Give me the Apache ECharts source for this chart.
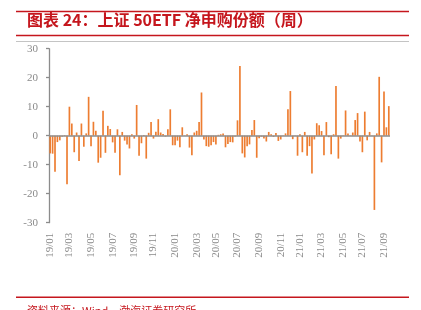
<!DOCTYPE html>
<html>
<head>
<meta charset="utf-8">
<script src="https://cdn.jsdelivr.net/npm/echarts@6/dist/echarts.min.js"></script>
<style>
html,body{margin:0;padding:0;background:#fff;}
#c{width:421px;height:310px;}
</style>
</head>
<body>
<div id="c"></div>
<script>
// Weekly net subscription shares of SSE 50ETF, first week of 2019-01 onward
var startDate = [2019, 0, 4];
var weekValues = [
  -6.1, -6.2, -12.4, -2.2, -1.6, -0.3, 0.2, -16.7, 10.0, 4.2,
  -5.7, 1.1, -8.7, 4.2, -3.8, 0.8, 13.4, -3.6, 4.8, 1.7,
  -9.3, -7.6, 8.6, -5.9, 3.4, 2.3, -2.3, -5.9, 2.2, -13.6,
  1.3, -1.7, -3.0, -4.4, 0.5, -1.0, 10.6, -6.9, -2.6, 0.2,
  -7.9, 1.0, 4.7, -1.0, 1.4, 5.7, 1.1, 0.6, -0.3, 2.2,
  9.1, -3.3, -3.3, -1.7, -4.0, 2.9, 0.1, 0.5, -4.1, -6.7,
  1.1, 1.7, 4.7, 14.9, -1.3, -3.6, -3.8, -3.3, -2.2, -3.0,
  0.3, 0.5, 0.8, -4.0, -2.9, -2.2, -2.3, -0.3, 5.3, 24.0,
  -6.1, -7.5, -3.6, -3.0, 2.0, 5.4, -7.6, -0.9, -0.3, -1.0,
  -2.0, 1.3, 0.5, -0.4, 0.9, -1.8, -1.3, 0.1, 0.8, 9.1,
  15.4, -1.2, 0.1, -6.9, 0.5, -5.7, 1.3, -6.9, -3.6, -13.0,
  -1.3, 4.3, 3.6, 1.6, -6.7, 4.7, -0.5, -6.4, 0.5, 17.1,
  -7.9, -1.0, 0.1, 8.7, 0.8, 0.1, 1.1, 5.4, 7.8, -2.0,
  -5.7, 8.3, -1.6, 1.3, 0.1, -25.6, 0.8, 20.3, -9.2, 15.2,
  2.9, 10.2
];
var yTicks = [-30, -20, -10, 0, 10, 20, 30];
var titleText = '图表 24：上证 50ETF 净申购份额（周）';
var sourceText = '资料来源：Wind，渤海证券研究所';

function pad(n){ return (n < 10 ? '0' : '') + n; }
var categories = [];
var t0 = Date.UTC(startDate[0], startDate[1], startDate[2]);
for (var i = 0; i < weekValues.length; i++) {
  var d = new Date(t0 + i * 7 * 86400000);
  categories.push(String(d.getUTCFullYear()).slice(2) + '/' + pad(d.getUTCMonth() + 1) + '/' + pad(d.getUTCDate()));
}
function showLabel(idx, val) {
  var m = parseInt(val.split('/')[1], 10);
  if (m % 2 === 0) return false;
  if (idx === 0) return true;
  var prevM = parseInt(categories[idx - 1].split('/')[1], 10);
  return prevM !== m;
}

var serif = 'Liberation Serif';
var labelRich = {s: {fontFamily: serif, fontSize: 11, color: '#8a8a8a'}};
var chart = echarts.init(document.getElementById('c'), null, {renderer: 'canvas'});
var red = '#C5161D';
chart.setOption({
  animation: false,
  backgroundColor: '#ffffff',
  textStyle: {fontFamily: serif},
  grid: {left: 49, right: 31, top: 48.7, bottom: 87.3, containLabel: false},
  xAxis: {
    type: 'category',
    data: categories,
    boundaryGap: true,
    axisLine: {show: false, onZero: false},
    axisTick: {show: false},
    splitLine: {show: false},
    axisLabel: {
      interval: showLabel,
      rotate: 90,
      margin: 10,
      color: '#8a8a8a',
      fontFamily: serif,
      fontSize: 11,
      rich: labelRich,
      formatter: function (v) { return '{s|' + v.slice(0, 5) + '}'; }
    }
  },
  yAxis: {
    type: 'value',
    min: yTicks[0],
    max: yTicks[yTicks.length - 1],
    interval: 10,
    axisLine: {show: true, lineStyle: {color: '#8c8c8c', width: 1.3}},
    axisTick: {show: true, length: 3, lineStyle: {color: '#8c8c8c', width: 1.3}},
    splitLine: {show: false},
    axisLabel: {
      margin: 11,
      color: '#8a8a8a',
      fontFamily: serif,
      fontSize: 11,
      rich: labelRich,
      formatter: function (v) { return '{s|' + String(v).replace('\u2212', '-') + '}'; }
    }
  },
  series: [{
    type: 'bar',
    data: weekValues,
    barCategoryGap: '30%',
    itemStyle: {color: '#ED7D31'},
    markLine: {
      silent: true,
      symbol: 'none',
      label: {show: false},
      lineStyle: {color: '#8c8c8c', width: 1.5, type: 'solid'},
      data: [{yAxis: 0}]
    }
  }],
  graphic: [
    {type: 'line', shape: {x1: 16, y1: 11.5, x2: 409, y2: 11.5}, style: {stroke: red, lineWidth: 1.6}},
    {type: 'text', left: 27, top: 12, style: {text: titleText, fill: red, font: 'bold 16px "Noto Sans CJK SC"'}},
    {type: 'line', shape: {x1: 16, y1: 35.5, x2: 409, y2: 35.5}, style: {stroke: red, lineWidth: 1.3}},
    {type: 'line', shape: {x1: 16, y1: 41.5, x2: 409, y2: 41.5}, style: {stroke: '#c4c4c4', lineWidth: 1}},
    {type: 'line', shape: {x1: 16, y1: 297.2, x2: 409, y2: 297.2}, style: {stroke: red, lineWidth: 1.4}},
    {type: 'text', left: 27, top: 305, style: {text: sourceText, fill: red, font: '11px "Noto Sans CJK SC"'}}
  ]
});
</script>
</body>
</html>
